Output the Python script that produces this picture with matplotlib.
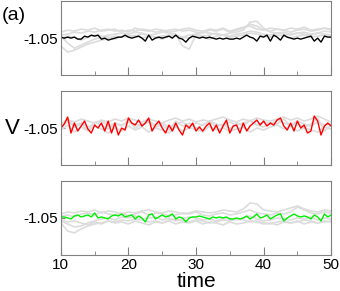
import numpy as np
import matplotlib
matplotlib.use("Agg")
import matplotlib.pyplot as plt

plt.rcParams['font.family'] = ['Liberation Sans', 'DejaVu Sans']

# reference level of V and the deviations (units of 1e-3)
v_ref = -1.05
x_ticks = [10, 20, 30, 40, 50]
y_ticks = [-1.05]
y_tick_labels = ["-1.05"]

# highlighted trajectories, t = 10 .. 50 every 0.5
black_dev = [1, 0, 1, 0, 1, -1, -1, 2, 1, 3, 2, 3, -1, 0, -2, -1, 0, 1, 1, 3,
             1, 0, 1, 2, 0, -3, 3, -2, 0, 1, 0, 1, 2, 0, 3, 0, -1, -4, 0, 2,
             1, 0, 1, 0, 1, 0, -1, 0, -1, 0, -1, -1, 0, -1, 1, 3, 1, 0, -3, 2,
             1, 3, -3, 3, 1, -2, 3, 1, 0, -1, 0, -1, 0, 1, 2, -3, 0, -4, 2, 1, 1]
red_dev = [0, 4, 11, -5, 5, -3, 2, 7, -1, -5, 3, 0, 5, -3, 7, -5, 5, -7, 0, -2,
           10, 5, 3, 8, 2, 5, 10, -3, 3, 7, 0, -5, 3, -3, 5, -2, -7, 3, 0, 5,
           -3, 1, -3, 2, 5, -3, 3, -5, 2, 8, -5, 2, 3, -5, 5, -3, 2, 5, 8, 3,
           7, 2, 5, 3, 8, 10, 2, -2, 5, -3, 7, 0, 3, -5, -3, 12, 7, -7, 2, 5, 2]
green_dev = [1, 1, 0, -1, 2, 3, 1, 2, 3, 1, 5, 0, 1, 0, -1, 2, 3, 2, 4, 1,
             2, 3, -1, 2, 0, -4, 3, 4, -1, 1, 3, 1, 2, 4, -1, 1, 0, -4, 0, 1,
             1, 2, 1, 0, -1, 1, 0, 1, 0, 1, -1, -1, 0, -1, 0, 2, -1, 1, 4, 0,
             1, 3, -1, 1, 3, 4, -3, 0, 2, 4, 2, 1, 2, 1, -1, 3, 1, -3, 4, 1, 3]

# background (gray) trajectories, t = 10 .. 50 every 1
gray_top = [
    [6, 8, 7, 9, 8, 10, 7, 8, 9, 6, 8, 7, 9, 8, 6, 7, 8, 9, 7, 8, 6, 5, 8, 7, 9,
     6, 8, 10, 14, 12, 8, 7, 9, 8, 6, 8, 9, 7, 8, 10, 8],
    [-8, -14, -12, -9, -6, -4, -2, 0, 2, 1, 3, 2, 4, 3, 1, 2, 3, 2, 1, 3, 4, 2, 3,
     5, 3, 2, 4, 5, 7, 6, 4, 3, 5, 4, 3, 5, 4, 3, 5, 4, 3],
    [2, -5, -10, -7, -4, -1, 1, 3, 4, 5, 4, 6, 5, 3, 4, 6, 5, 4, -8, -11, 4, 6, 5,
     4, 3, 5, 6, 8, 16, 17, 10, 6, 5, 6, 4, 5, 6, 4, 5, 7, 6],
    [3, 4, 6, 5, 7, 6, 8, 9, 7, 8, 6, 10, 8, 7, 9, 8, 6, 7, 9, 10, 8, 7, 9, 8, 10,
     7, 9, 11, 12, 9, 8, 10, 9, 8, 10, 9, 11, 8, 9, 10, 9],
    [0, 2, 1, -2, 1, 3, 2, 1, -1, 2, 1, 3, 0, 2, 1, -1, 2, 3, 1, 0, 2, 1, -1, 2,
     3, 1, 2, 3, 5, 4, 2, 1, 3, 2, 0, 2, 3, 1, 2, 3, 2],
]
gray_mid = [
    [4, 8, 6, 9, 7, 5, 8, 6, 9, 7, 10, 8, 6, 9, 7, 5, 8, 10, 7, 9, 6, 8, 7, 9, 11,
     8, 6, 9, 7, 10, 8, 7, 9, 11, 8, 10, 7, 9, 12, 9, 6],
    [-2, 3, -4, 1, -3, 2, -1, -5, 0, -3, 2, -2, 1, -4, 0, -2, -5, 1, -3, 0, -1, -4,
     2, -2, 0, -3, -1, 1, -4, 0, -2, 1, 3, -1, 2, -3, 0, -2, -4, 1, -1],
    [2, 6, 3, 5, 1, 4, 7, 2, 5, 3, 6, 4, 2, 7, 3, 5, 1, 4, 6, 2, 5, 3, 7, 4, 2, 6,
     3, 5, 7, 3, 6, 4, 8, 5, 3, 7, 4, 2, 6, 3, 4],
    [0, 9, 1, 4, -2, 6, 3, -1, 5, 2, 8, 0, 4, 6, 1, 3, -2, 7, 2, 5, 0, 3, 6, 1, 4,
     -1, 5, 2, 8, 3, 1, 6, 4, 9, 2, 5, 0, 4, 10, -3, 3],
]
gray_bot = [
    [-5, -13, -15, -11, -8, -6, -5, -3, -4, -2, -3, -1, -2, -4, -3, -5, -2, -1, -3,
     -4, -2, -3, -5, -4, -2, -3, -1, -2, -4, -3, -5, -6, -4, -3, -5, -4, -2, -3,
     -5, -4, -3],
    [4, 6, 5, 7, 6, 8, 5, 7, 6, 4, 6, 5, 7, 8, 6, 5, 7, 6, 4, 5, 7, 6, 5, 6, 8, 7,
     6, 9, 15, 14, 8, 7, 6, 8, 10, 12, 9, 7, 6, 8, 7],
    [-3, -6, -9, -8, -5, -3, -1, 0, -2, 1, 0, 2, -1, 0, 1, -2, 0, -3, -1, 1, 0, -2,
     -1, -3, 0, -1, -2, 0, 2, -1, -3, -2, 0, -1, -2, 0, -1, 1, -2, 0, -1],
    [2, 3, 1, 4, 5, 3, 6, 4, 3, 5, 2, 4, 6, 3, 5, 4, 2, 3, 5, 4, 6, 3, 2, 4, 5, 3,
     4, 6, 8, 5, 4, 3, 5, 4, 6, 11, 8, 5, 4, 6, 5],
    [-2, -4, -3, -5, -7, -4, -6, -3, -5, -4, -6, -3, -5, -7, -4, -5, -3, -6, -4,
     -5, -3, -6, -4, -5, -7, -4, -6, -5, -3, -4, -6, -5, -7, -4, -5, -3, -6, -4,
     -5, -3, -4],
]

panels = [(black_dev, "black", gray_top),
          (red_dev, "#ff0000", gray_mid),
          (green_dev, "#00ee00", gray_bot)]

fig = plt.figure(figsize=(3.4, 2.91), dpi=100)
bottoms = [0.742, 0.433, 0.124]
frame = "#808080"

for i, (dev, col, grays) in enumerate(panels):
    ax = fig.add_axes([0.179, bottoms[i], 0.795, 0.254])
    for g in grays:
        tg = np.linspace(10, 50, len(g))
        ax.plot(tg, v_ref + np.array(g) * 1e-3, color="#dcdcdc", lw=1.2)
    t = np.linspace(10, 50, len(dev))
    ax.plot(t, v_ref + np.array(dev) * 1e-3, color=col, lw=1.0)
    ax.set_xlim(10, 50)
    ax.set_ylim(v_ref - 0.037, v_ref + 0.037)
    ax.set_xticks(x_ticks)
    ax.set_xticks([15, 25, 35, 45], minor=True)
    ax.set_yticks(y_ticks)
    ax.set_yticklabels(y_tick_labels)
    for s in ax.spines.values():
        s.set_color(frame)
        s.set_linewidth(0.8)
    ax.tick_params(axis="both", which="both", direction="in", color=frame,
                   top=False, right=False, labelsize=11, pad=2)
    ax.tick_params(axis="x", which="major", length=6)
    ax.tick_params(axis="x", which="minor", length=3)
    ax.tick_params(axis="y", length=3)
    if i < 2:
        ax.tick_params(axis="x", labelbottom=False)
    else:
        ax.set_xlabel("time", fontsize=15)
        ax.xaxis.set_label_coords(0.5, -0.225)
    if i == 1:
        ax.set_ylabel("V", fontsize=16, rotation=0, va="center", ha="center")
        ax.yaxis.set_label_coords(-0.18, 0.5)

fig.text(0.005, 0.948, "(a)", fontsize=14, va="center")
fig.savefig("out.png", dpi=100)
